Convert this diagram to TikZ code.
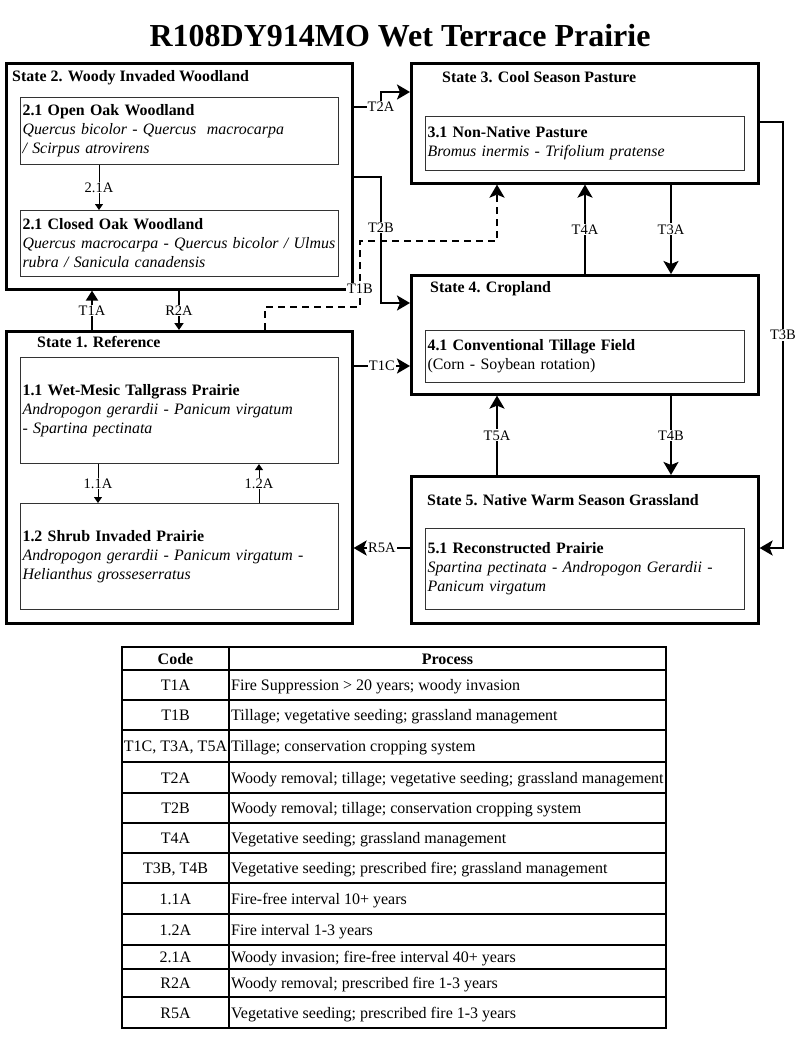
\documentclass[tikz,border=0pt]{standalone}
\usepackage{fontspec}
\setmainfont{Liberation Serif}
\usetikzlibrary{arrows.meta}

\begin{document}
\begin{tikzpicture}[
    x=1pt, y=-1pt,
    statebox/.style = {draw, line width=2.6pt, anchor=north west,
                       inner sep=0pt},
    phase/.style    = {draw=black!80, line width=1.1pt, anchor=north west,
                       inner xsep=2pt, inner ysep=0pt, align=left,
                       font=\fontsize{15.9}{19}\selectfont},
    stitle/.style   = {anchor=base west, inner sep=0pt,
                       font=\fontsize{15.9}{19}\selectfont\bfseries},
    lbl/.style      = {fill=white, inner sep=1pt,
                       font=\fontsize{14.5}{15}\selectfont},
    trans/.style    = {line width=2.3pt,
                       -{Stealth[length=13pt,width=15pt,inset=3pt]}},
    minor/.style    = {line width=1pt, -{Triangle[length=6pt,width=8pt]}},
    cell/.style     = {inner sep=0pt, anchor=base,
                       font=\fontsize{16}{19}\selectfont},
    rule/.style     = {line width=1.3pt},
  ]
  \path[use as bounding box, fill=white] (0,0) rectangle (800,1044);
  % title
  \node[font=\fontsize{32}{36}\selectfont\bfseries] (title) at (400,36)
    {R108DY914MO Wet Terrace Prairie};
  % states
  \node[statebox, minimum width=346pt, minimum height=226pt] (s2) at (5,62) {};
  \node[statebox, minimum width=347pt, minimum height=120pt] (s3) at (410,62) {};
  \node[statebox, minimum width=347pt, minimum height=119pt] (s4) at (410,274) {};
  \node[statebox, minimum width=346pt, minimum height=292pt] (s1) at (5,330) {};
  \node[statebox, minimum width=347pt, minimum height=147pt] (s5) at (410,475) {};
  \node[stitle] (s2t) at (12,81)  {State 2. Woody Invaded Woodland};
  \node[stitle] (s3t) at (442,82) {State 3. Cool Season Pasture};
  \node[stitle] (s4t) at (430,292) {State 4. Cropland};
  \node[stitle] (s1t) at (37,347) {State 1. Reference};
  \node[stitle] (s5t) at (427,505) {State 5. Native Warm Season Grassland};
  % community phases
  \node[phase, text width=314pt, minimum height=67pt] (p21) at (20,97)
    {{\bfseries 2.1 Open Oak Woodland}\\
     \textit{Quercus bicolor - Quercus\ \ macrocarpa}\\
     \textit{/ Scirpus atrovirens}};
  \node[phase, text width=314pt, minimum height=66pt] (p22) at (20,210)
    {{\bfseries 2.1 Closed Oak Woodland}\\
     \textit{Quercus macrocarpa - Quercus bicolor / Ulmus}\\
     \textit{rubra / Sanicula canadensis}};
  \node[phase, text width=315pt, minimum height=54pt] (p31) at (425,116)
    {{\bfseries 3.1 Non-Native Pasture}\\
     \textit{Bromus inermis - Trifolium pratense}};
  \node[phase, text width=315pt, minimum height=52pt] (p41) at (425,330)
    {{\bfseries 4.1 Conventional Tillage Field}\\
     (Corn - Soybean rotation)};
  \node[phase, text width=314pt, minimum height=106pt] (p11) at (20,357)
    {{\bfseries 1.1 Wet-Mesic Tallgrass Prairie}\\
     \textit{Andropogon gerardii - Panicum virgatum}\\
     \textit{- Spartina pectinata}};
  \node[phase, text width=314pt, minimum height=106pt] (p12) at (20,503)
    {{\bfseries 1.2 Shrub Invaded Prairie}\\
     \textit{Andropogon gerardii - Panicum virgatum -}\\
     \textit{Helianthus grosseserratus}};
  \node[phase, text width=315pt, minimum height=81pt] (p51) at (425,528)
    {{\bfseries 5.1 Reconstructed Prairie}\\
     \textit{Spartina pectinata - Andropogon Gerardii -}\\
     \textit{Panicum virgatum}};
  % pathways inside states
  \draw[minor] (p21.south -| 99,0) -- node[lbl]{2.1A} (p22.north -| 99,0);
  \draw[minor] (p11.south -| 98,0) -- node[lbl]{1.1A} (p12.north -| 98,0);
  \draw[minor] (p12.north -| 259,0) -- node[lbl]{1.2A} (p11.south -| 259,0);
  % transitions and restorations
  \draw[line width=2pt, -{Triangle[length=10pt,width=12pt]}]
    (s1.north -| 92,0) -- node[lbl]{T1A} (s2.south -| 92,0);
  \draw[line width=1.8pt, -{Triangle[length=7pt,width=9pt]}]
    (s2.south -| 179,0) -- node[lbl]{R2A} (s1.north -| 179,0);
  \draw[trans] (s2.east |- 0,107) -- (381,107) node[lbl]{T2A}
    -- (381,92) -- (s3.west |- 0,92);
  \draw[trans] (s2.east |- 0,177) -- (381,177)
    -- node[lbl,pos=0.4]{T2B} (381,303) -- (s4.west |- 0,303);
  \draw[trans, dash pattern=on 7pt off 5pt] (s1.north -| 265,0) -- (265,307)
    -- (360,307) -- node[lbl,pos=0.27]{T1B} (360,241)
    -- (497,241) -- (s3.south -| 497,0);
  \draw[trans] (s1.east |- 0,366) -- node[lbl]{T1C} (s4.west |- 0,366);
  \draw[trans] (s5.west |- 0,548) -- node[lbl]{R5A} (s1.east |- 0,548);
  \draw[trans] (s4.north -| 585,0) -- node[lbl]{T4A} (s3.south -| 585,0);
  \draw[trans] (s3.south -| 671,0) -- node[lbl]{T3A} (s4.north -| 671,0);
  \draw[trans] (s5.north -| 497,0) -- node[lbl]{T5A} (s4.south -| 497,0);
  \draw[trans] (s4.south -| 671,0) -- node[lbl]{T4B} (s5.north -| 671,0);
  \draw[trans] (s3.east |- 0,122) -- (783,122)
    -- node[lbl]{T3B} (783,548) -- (s5.east |- 0,548);
  % legend table
  \node[cell, font=\fontsize{16}{19}\selectfont\bfseries] (hcode) at (175.5,664) {Code};
  \node[cell, font=\fontsize{16}{19}\selectfont\bfseries] (hproc) at (447.5,664) {Process};
  \foreach \top/\bot/\code/\proc [count=\r] in {
      670/700/T1A/Fire Suppression > 20 years; woody invasion,
      700/730/T1B/Tillage; vegetative seeding; grassland management,
      730/762/{T1C, T3A, T5A}/Tillage; conservation cropping system,
      762/793/T2A/Woody removal; tillage; vegetative seeding; grassland management,
      793/823/T2B/Woody removal; tillage; conservation cropping system,
      823/853/T4A/Vegetative seeding; grassland management,
      853/883/{T3B, T4B}/Vegetative seeding; prescribed fire; grassland management,
      883/914/1.1A/Fire-free interval 10+ years,
      914/945/1.2A/Fire interval 1-3 years,
      945/969/2.1A/Woody invasion; fire-free interval 40+ years,
      969/997/R2A/Woody removal; prescribed fire 1-3 years,
      997/1028/R5A/Vegetative seeding; prescribed fire 1-3 years}{
    \node[cell] (code\r) at (175.5,{(\top+\bot)/2+5.5}) {\code};
    \node[cell, anchor=base west] (proc\r) at (231,{(\top+\bot)/2+5.5}) {\proc};
    \draw[rule] (122,\top) -- (666,\top);
  }
  \draw[rule] (122,647) rectangle (666,1028);
  \draw[rule] (229,647) -- (229,1028);
\end{tikzpicture}
\end{document}
